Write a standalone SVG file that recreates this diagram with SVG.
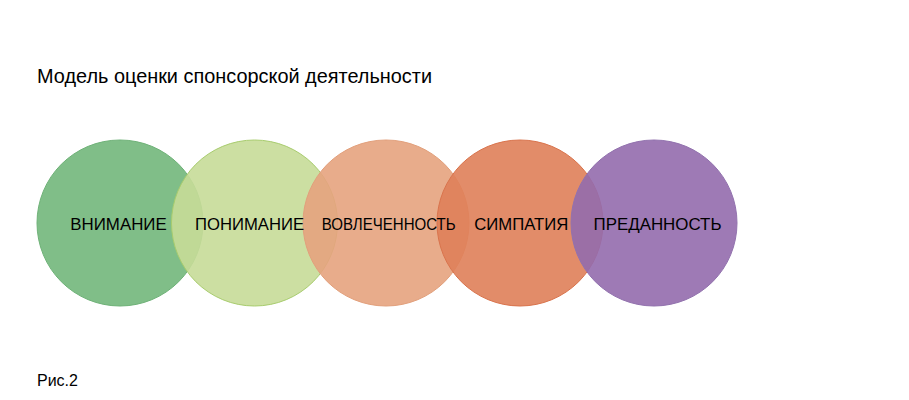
<svg xmlns="http://www.w3.org/2000/svg" width="909" height="400" viewBox="0 0 909 400">
<style>
.t{font-family:"Liberation Sans",Arial,sans-serif;fill:#000}
.lbl{font-size:17px;text-anchor:middle}
circle{fill-opacity:0.9;stroke-width:1}
</style>
<rect width="909" height="400" fill="#fff"/>
<text class="t" x="37" y="83" font-size="19.8" textLength="395" lengthAdjust="spacingAndGlyphs">Модель оценки спонсорской деятельности</text>
<g id="nodes">
<g id="n1"><circle cx="120" cy="223" r="83" fill="#72b77b" stroke="#6fb278"/></g>
<g id="n2"><circle cx="254.5" cy="223" r="83" fill="#c6db98" stroke="#a8cc6e"/></g>
<g id="n3"><circle cx="386" cy="223" r="83" fill="#e5a37e" stroke="#e2a07c"/></g>
<g id="n4"><circle cx="520" cy="223" r="83" fill="#df7f59" stroke="#d9744d"/></g>
<g id="n5"><circle cx="654" cy="223" r="83" fill="#946cad" stroke="#9272ae"/></g>
</g>
<g id="labels">
<text id="n1-label" class="t lbl" x="118.5" y="229.5" textLength="96.5" lengthAdjust="spacingAndGlyphs">ВНИМАНИЕ</text>
<text id="n2-label" class="t lbl" x="249.5" y="229.5" textLength="109" lengthAdjust="spacingAndGlyphs">ПОНИМАНИЕ</text>
<text id="n3-label" class="t lbl" x="388.7" y="229.5" textLength="134" lengthAdjust="spacingAndGlyphs">ВОВЛЕЧЕННОСТЬ</text>
<text id="n4-label" class="t lbl" x="521.3" y="229.5" textLength="94" lengthAdjust="spacingAndGlyphs">СИМПАТИЯ</text>
<text id="n5-label" class="t lbl" x="657.5" y="229.5" textLength="128" lengthAdjust="spacingAndGlyphs">ПРЕДАННОСТЬ</text>
</g>
<g id="connectors"></g>
<text class="t" x="37" y="386" font-size="16">Рис.2</text>
</svg>
